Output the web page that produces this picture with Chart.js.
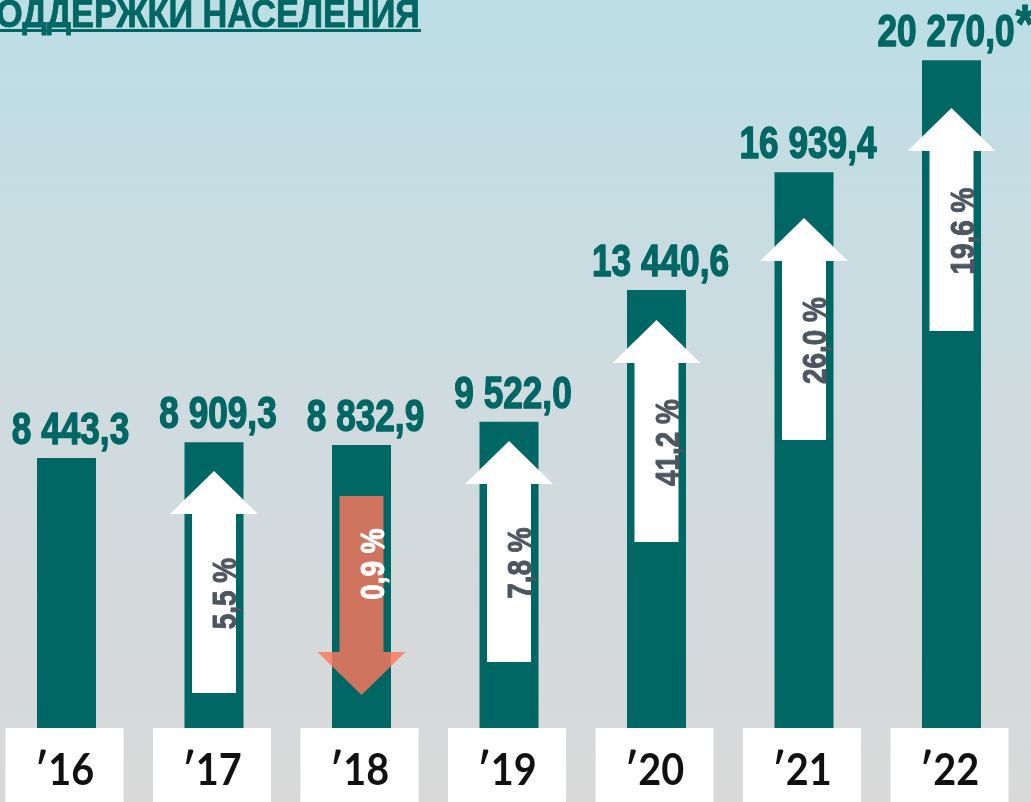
<!DOCTYPE html>
<html lang="ru">
<head>
<meta charset="UTF-8">
<title>Поддержка населения</title>
<script src="https://cdn.jsdelivr.net/npm/chart.js"></script>
<style>
  html, body { margin: 0; padding: 0; overflow: hidden; }
  #wrap { width: 1031px; height: 802px; position: relative; }
</style>
</head>
<body>
<div id="wrap"><canvas id="chart"></canvas></div>
<script>
// data
const years = ["16", "17", "18", "19", "20", "21", "22"];
const amounts = [8443.3, 8909.3, 8832.9, 9522.0, 13440.6, 16939.4, 20270.0];
const changes = [null, 5.5, -0.9, 7.8, 41.2, 26.0, 19.6];
// arrow tail / tip, in the same units as the bars
const arrowFrom = [null, 1457, 7314, 2378, 5946, 8979, 12219];
const arrowTo = [null, 8057, 1397, 8949, 12546, 15578, 18849];
const starred = [false, false, false, false, false, false, true];
const titleText = "ПОДДЕРЖКИ НАСЕЛЕНИЯ";

const TEAL = "#006764";
const FONT = '"Liberation Sans", Arial, sans-serif';

function fmtAmount(v) {
  const parts = v.toFixed(1).split(".");
  return parts[0].replace(/\B(?=(\d{3})+(?!\d))/g, " ") + "," + parts[1];
}
function fmtChange(v) {
  return Math.abs(v).toFixed(1).replace(".", ",") + " %";
}

// narrow bold text: regular font squeezed horizontally, optional stroke to fatten it
function narrowText(ctx, text, x, y, size, color, align, squeeze, fatten) {
  ctx.save();
  ctx.font = "bold " + size + "px " + FONT;
  ctx.fillStyle = color;
  ctx.textAlign = "left";
  const w = ctx.measureText(text).width * squeeze;
  const x0 = align === "center" ? x - w / 2 : align === "right" ? x - w : x;
  ctx.translate(x0, y);
  ctx.scale(squeeze, 1);
  ctx.fillText(text, 0, 0);
  if (fatten) {
    ctx.strokeStyle = color;
    ctx.lineWidth = fatten;
    ctx.lineJoin = "round";
    ctx.strokeText(text, 0, 0);
  }
  ctx.restore();
  return w;
}

const background = {
  id: "background",
  beforeDraw(chart) {
    const ctx = chart.ctx;
    const g = ctx.createLinearGradient(0, 0, 0, chart.height);
    g.addColorStop(0, "#bcdee5");
    g.addColorStop(0.5, "#cfdbdf");
    g.addColorStop(1, "#d9d9d9");
    ctx.save();
    ctx.fillStyle = g;
    ctx.fillRect(0, 0, chart.width, chart.height);
    ctx.restore();
  }
};

const decorations = {
  id: "decorations",
  afterDatasetsDraw(chart) {
    const ctx = chart.ctx;
    const y = chart.scales.y;
    const bars = chart.getDatasetMeta(0).data;

    // arrows with percentage change
    bars.forEach((bar, i) => {
      if (changes[i] === null) return;
      const cx = bar.x;
      const yFrom = y.getPixelForValue(arrowFrom[i]);
      const yTo = y.getPixelForValue(arrowTo[i]);
      const up = yTo < yFrom;
      const dir = up ? 1 : -1;
      const headH = 43, headW = 88, shaftW = 44;
      const yBase = yTo + dir * headH;
      ctx.save();
      ctx.fillStyle = up ? "#ffffff" : "rgba(252,120,93,0.82)";
      ctx.beginPath();
      ctx.moveTo(cx - shaftW / 2, yFrom);
      ctx.lineTo(cx - shaftW / 2, yBase);
      ctx.lineTo(cx - headW / 2, yBase);
      ctx.lineTo(cx, yTo);
      ctx.lineTo(cx + headW / 2, yBase);
      ctx.lineTo(cx + shaftW / 2, yBase);
      ctx.lineTo(cx + shaftW / 2, yFrom);
      ctx.closePath();
      ctx.fill();
      ctx.restore();

      const mid = (yFrom + yBase) / 2 - 10;
      ctx.save();
      ctx.translate(cx + 22, mid);
      ctx.rotate(-Math.PI / 2);
      narrowText(ctx, fmtChange(changes[i]), 0, 0, 34, up ? "#4d5660" : "#ffffff", "center", 0.82, 1);
      ctx.restore();
    });

    // value labels above bars
    bars.forEach((bar, i) => {
      const txt = fmtAmount(amounts[i]);
      ctx.save();
      ctx.font = "bold 44px " + FONT;
      const w = ctx.measureText(txt).width * 0.8;
      ctx.font = "bold 54px " + FONT;
      const sw = starred[i] ? ctx.measureText("*").width * 0.9 : 0;
      ctx.restore();
      const left = bar.x - (w + sw) / 2 + 4;
      const base = bar.y - 14;
      narrowText(ctx, txt, left, base, 44, TEAL, "left", 0.8, 1.4);
      if (starred[i]) narrowText(ctx, "*", left + w + 1, base - 4, 54, TEAL, "left", 0.9, 1);
    });

    // year boxes
    bars.forEach((bar, i) => {
      const bx = bar.x - 2;
      ctx.save();
      ctx.fillStyle = "#ffffff";
      ctx.fillRect(bx - 59, 728, 118, chart.height - 728);
      ctx.fillStyle = "#111111";
      ctx.font = 'bold 44px Lato, "Open Sans", sans-serif';
      ctx.textAlign = "left";
      const t = "\u2032" + years[i];
      const w = ctx.measureText(t).width * 0.9;
      ctx.translate(bx - w / 2, 785);
      ctx.scale(0.9, 1);
      ctx.fillText(t, 0, 0);
      ctx.restore();
    });

    // title, cut by the left edge as in the source
    ctx.save();
    ctx.font = "bold 38px " + FONT;
    const visible = titleText.slice(1);
    const sq = 424 / ctx.measureText(visible).width;
    ctx.restore();
    narrowText(ctx, titleText, 420, 27, 38, TEAL, "right", sq, 0.8);
    ctx.save();
    ctx.fillStyle = TEAL;
    ctx.fillRect(0, 29, 421, 3);
    ctx.restore();
  }
};

new Chart(document.getElementById("chart"), {
  type: "bar",
  data: {
    labels: years,
    datasets: [{
      data: amounts,
      backgroundColor: TEAL,
      barPercentage: 0.4,
      categoryPercentage: 1.0,
      clip: false
    }]
  },
  options: {
    responsive: true,
    maintainAspectRatio: false,
    animation: false,
    layout: { padding: { left: 66.5, right: 79.5, top: 2, bottom: 60 } },
    scales: {
      x: { display: false, offset: false },
      y: { display: false, min: 0, max: 22000 }
    },
    plugins: {
      legend: { display: false },
      tooltip: { enabled: false }
    }
  },
  plugins: [background, decorations]
});
</script>
</body>
</html>
